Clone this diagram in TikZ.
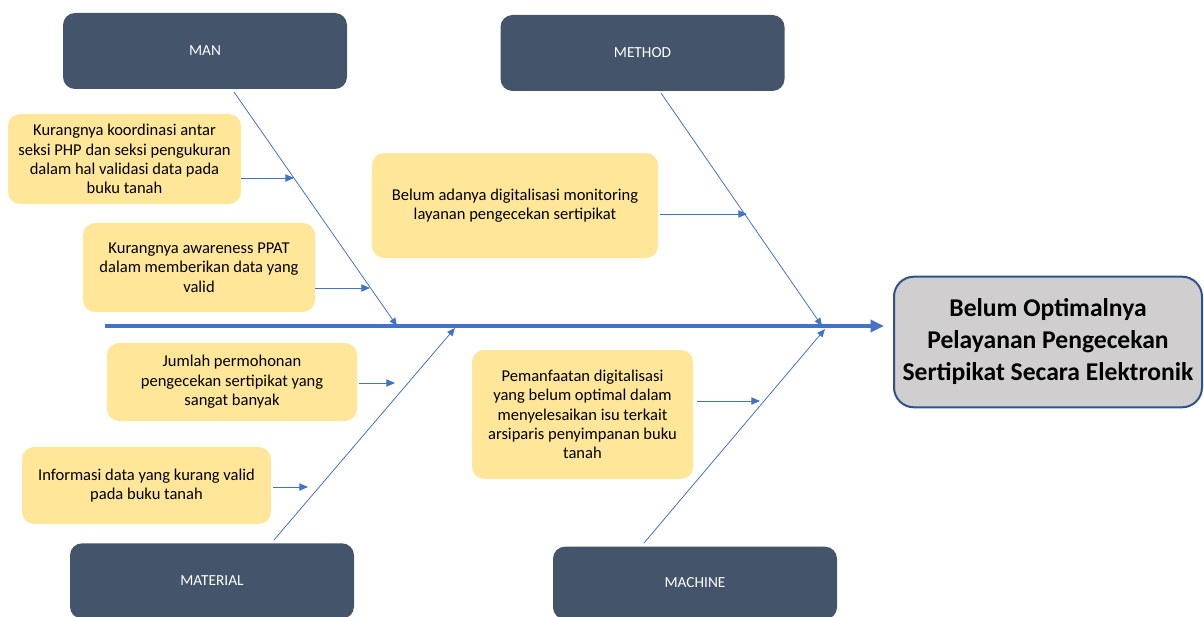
\documentclass[tikz,border=0pt]{standalone}
\usepackage{fontspec}
\setmainfont{Carlito}
\usepackage{xcolor}
\usepackage{tikz}
\usetikzlibrary{arrows.meta, positioning}

\definecolor{slate}{HTML}{44546A}
\definecolor{causefill}{HTML}{FFE699}
\definecolor{boneblue}{HTML}{4472C4}
\definecolor{effectfill}{HTML}{D0CECE}
\definecolor{effectline}{HTML}{2F528F}

\begin{document}
\begin{tikzpicture}[
    x=0.75pt, y=-0.75pt,
    category/.style={rectangle, rounded corners=9pt, fill=slate, text=white, minimum width=213pt, minimum height=57pt, font=\fontsize{11.5}{13.5}\selectfont},
    cause/.style={rectangle, rounded corners=9pt, fill=causefill, align=center, inner sep=0pt, font=\fontsize{12.4}{14.5}\selectfont},
    effect/.style={rectangle, rounded corners=15pt, fill=effectfill, draw=effectline, line width=1.5pt, align=center, minimum width=231pt, minimum height=98pt, font=\bfseries\fontsize{19.2}{24}\selectfont},
    bone/.style={-{Triangle[length=6pt, width=5pt]}, draw=boneblue, line width=0.6pt},
    feed/.style={-{Triangle[length=6.5pt, width=5.5pt]}, draw=boneblue, line width=0.75pt},
    spine/.style={-{Triangle[length=10pt, width=9pt]}, draw=boneblue, line width=3pt},
]
\useasboundingbox (0,0) rectangle (1204,617);

% Categories
\node[category] (man) at (205, 51) {MAN};
\node[category] (method) at (642.5, 53) {METHOD};
\node[category, minimum height=56.5pt] (material) at (212, 581) {MATERIAL};
\node[category, minimum height=54.5pt] (machine) at (695, 583) {MACHINE};

% Effect (head of the fish)
\node[effect] (effect) at (1048, 342) {Belum Optimalnya\\Pelayanan Pengecekan\\Sertipikat Secara Elektronik};

% Causes -- upper side
\node[cause, minimum width=174.75pt, minimum height=67.5pt] (koordinasi) at (124.5, 159)
    {Kurangnya koordinasi antar\\seksi PHP dan seksi pengukuran\\dalam hal validasi data pada\\buku tanah};
\node[cause, minimum width=174pt, minimum height=66.75pt] (awareness) at (199, 267.5)
    {Kurangnya awareness PPAT\\dalam memberikan data yang\\valid};
\node[cause, minimum width=214.5pt, minimum height=78.75pt] (monitoring) at (515, 205.5)
    {Belum adanya digitalisasi monitoring\\layanan pengecekan sertipikat};

% Causes -- lower side
\node[cause, minimum width=187.5pt, minimum height=58.5pt] (permohonan) at (232, 382)
    {Jumlah permohonan\\pengecekan sertipikat yang\\sangat banyak};
\node[cause, minimum width=186.75pt, minimum height=57.75pt] (informasi) at (146.5, 485.5)
    {Informasi data yang kurang valid\\pada buku tanah};
\node[cause, minimum width=165.75pt, minimum height=96.75pt] (pemanfaatan) at (582.5, 414.5)
    {Pemanfaatan digitalisasi\\yang belum optimal dalam\\menyelesaikan isu terkait\\arsiparis penyimpanan buku\\tanah};

% === Spine ===
\coordinate (tail) at (105, 326);
\coordinate (head) at (884, 326);
\draw[spine] (tail) -- (head);

% === Bones ===
\coordinate (manroot) at (234, 92);
\coordinate (manjoint) at (397, 326);
\coordinate (methodroot) at (661, 93);
\coordinate (methodjoint) at (822, 326);
\coordinate (materialroot) at (274, 540);
\coordinate (materialjoint) at (455, 328);
\coordinate (machineroot) at (644, 543);
\coordinate (machinejoint) at (825, 329);
\draw[bone] (manroot) -- (manjoint);
\draw[bone] (methodroot) -- (methodjoint);
\draw[bone] (materialroot) -- (materialjoint);
\draw[bone] (machineroot) -- (machinejoint);

% === Cause arrows ===
\coordinate (koordinasitip) at (294, 178);
\coordinate (awarenesstip) at (370, 288);
\coordinate (monitoringtip) at (747, 214);
\coordinate (permohonantip) at (395, 383);
\coordinate (informasitip) at (308, 487);
\coordinate (pemanfaatantip) at (760, 401);
\draw[feed] (koordinasi.east |- koordinasitip) -- (koordinasitip);
\draw[feed] (awareness.east |- awarenesstip) -- (awarenesstip);
\draw[feed] ([xshift=1.5pt]monitoring.east |- monitoringtip) -- (monitoringtip);
\draw[feed] ([xshift=1.5pt]permohonan.east |- permohonantip) -- (permohonantip);
\draw[feed] ([xshift=1.5pt]informasi.east |- informasitip) -- (informasitip);
\draw[feed] ([xshift=3pt]pemanfaatan.east |- pemanfaatantip) -- (pemanfaatantip);

\end{tikzpicture}
\end{document}
